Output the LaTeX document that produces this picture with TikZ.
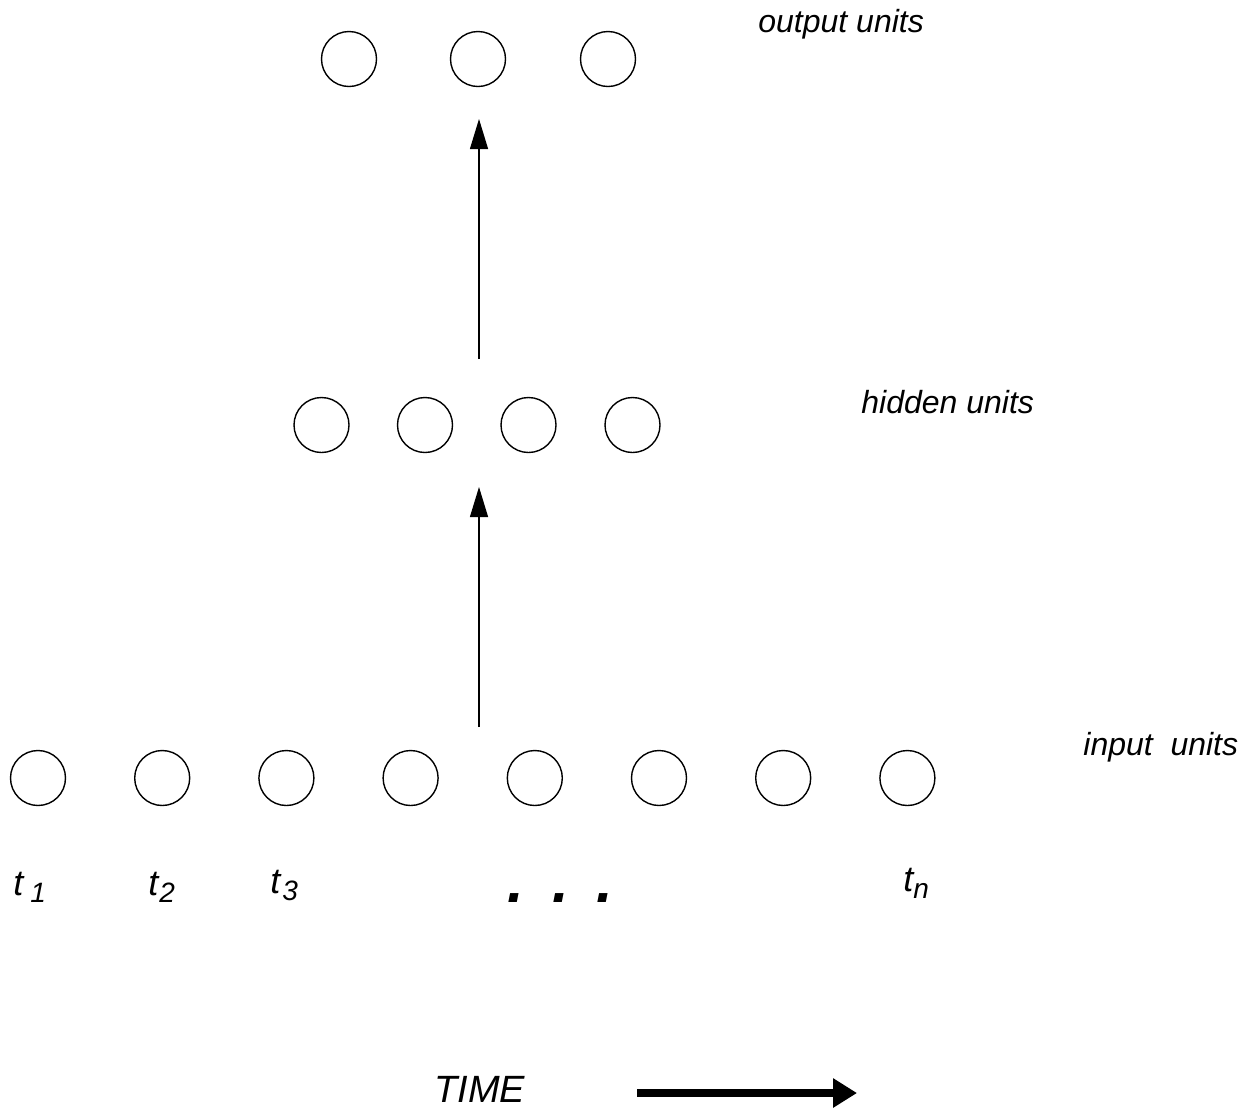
\documentclass[tikz,border=0pt]{standalone}
\usepackage{fontspec}
\setmainfont{Liberation Sans}
\usetikzlibrary{arrows.meta}

% size helper: font size given in pt
\newcommand{\fsz}[1]{\fontsize{#1}{#1}\selectfont}
% time-step label: t with a lowered index
\newcommand{\tlab}[2]{\itshape\fsz{18pt}t\hspace{#2}\raisebox{-3.5pt}{\fsz{14pt}#1}}

\begin{document}
\begin{tikzpicture}[x=0.5pt,y=-0.5pt,
  unit/.style={circle,draw,line width=0.7pt,inner sep=0pt,minimum size=27.5pt},
  lbl/.style={anchor=base west,inner sep=0pt,font=\itshape\fsz{16pt}},
  tl/.style={anchor=base west,inner sep=0pt},
  flow/.style={line width=0.6pt,-{Triangle[length=15pt,width=9pt]}},
  timearrow/.style={line width=4pt,-{Triangle[length=12pt 0 0,width=14pt 0 0]}}]

\useasboundingbox (0,0) rectangle (1256,1110);

% output layer
\foreach \i/\x in {1/349,2/478,3/608}
  \node[unit] (o\i) at (\x,59) {};
% hidden layer
\foreach \i/\x in {1/321.5,2/425,3/528.5,4/632.5}
  \node[unit] (h\i) at (\x,425) {};
% input layer
\foreach \i in {1,...,8}
  \node[unit] (x\i) at ({38+124.2*(\i-1)},778) {};

% layer names
\node[lbl] (lout) at (758,32) {output units};
\node[lbl] (lhid) at (861,413) {hidden units};
\node[lbl] (lin) at (1083,755) {input~~units};

% time-step labels under the input units
\node[tl] (t1) at (13,895) {\tlab{1}{3.5pt}};
\node[tl] (t2) at (148,895) {\tlab{2}{0.5pt}};
\node[tl] (t3) at (270,893) {\tlab{3}{1pt}};
\node[tl] (tn) at (903,891) {\tlab{n}{0pt}};
\node[anchor=base west,inner sep=0pt,font=\bfseries\itshape\fsz{30pt}] (dots)
  at (507,902) {.\hspace{14pt}.\hspace{14pt}.};

% feed-forward arrows between the layers
\coordinate (inTop) at (479,727);
\coordinate (hidBot) at (479,487);
\coordinate (hidTop) at (479,359);
\coordinate (outBot) at (479,119);
\draw[flow] (inTop) -- (hidBot);
\draw[flow] (hidTop) -- (outBot);

% time axis
\node[anchor=base west,inner sep=0pt,font=\itshape\fsz{19pt}] (time) at (434,1102) {TIME};
\coordinate (tStart) at (637,1093);
\coordinate (tEnd) at (857,1093);
\draw[timearrow] (tStart) -- (tEnd);
\end{tikzpicture}
\end{document}
